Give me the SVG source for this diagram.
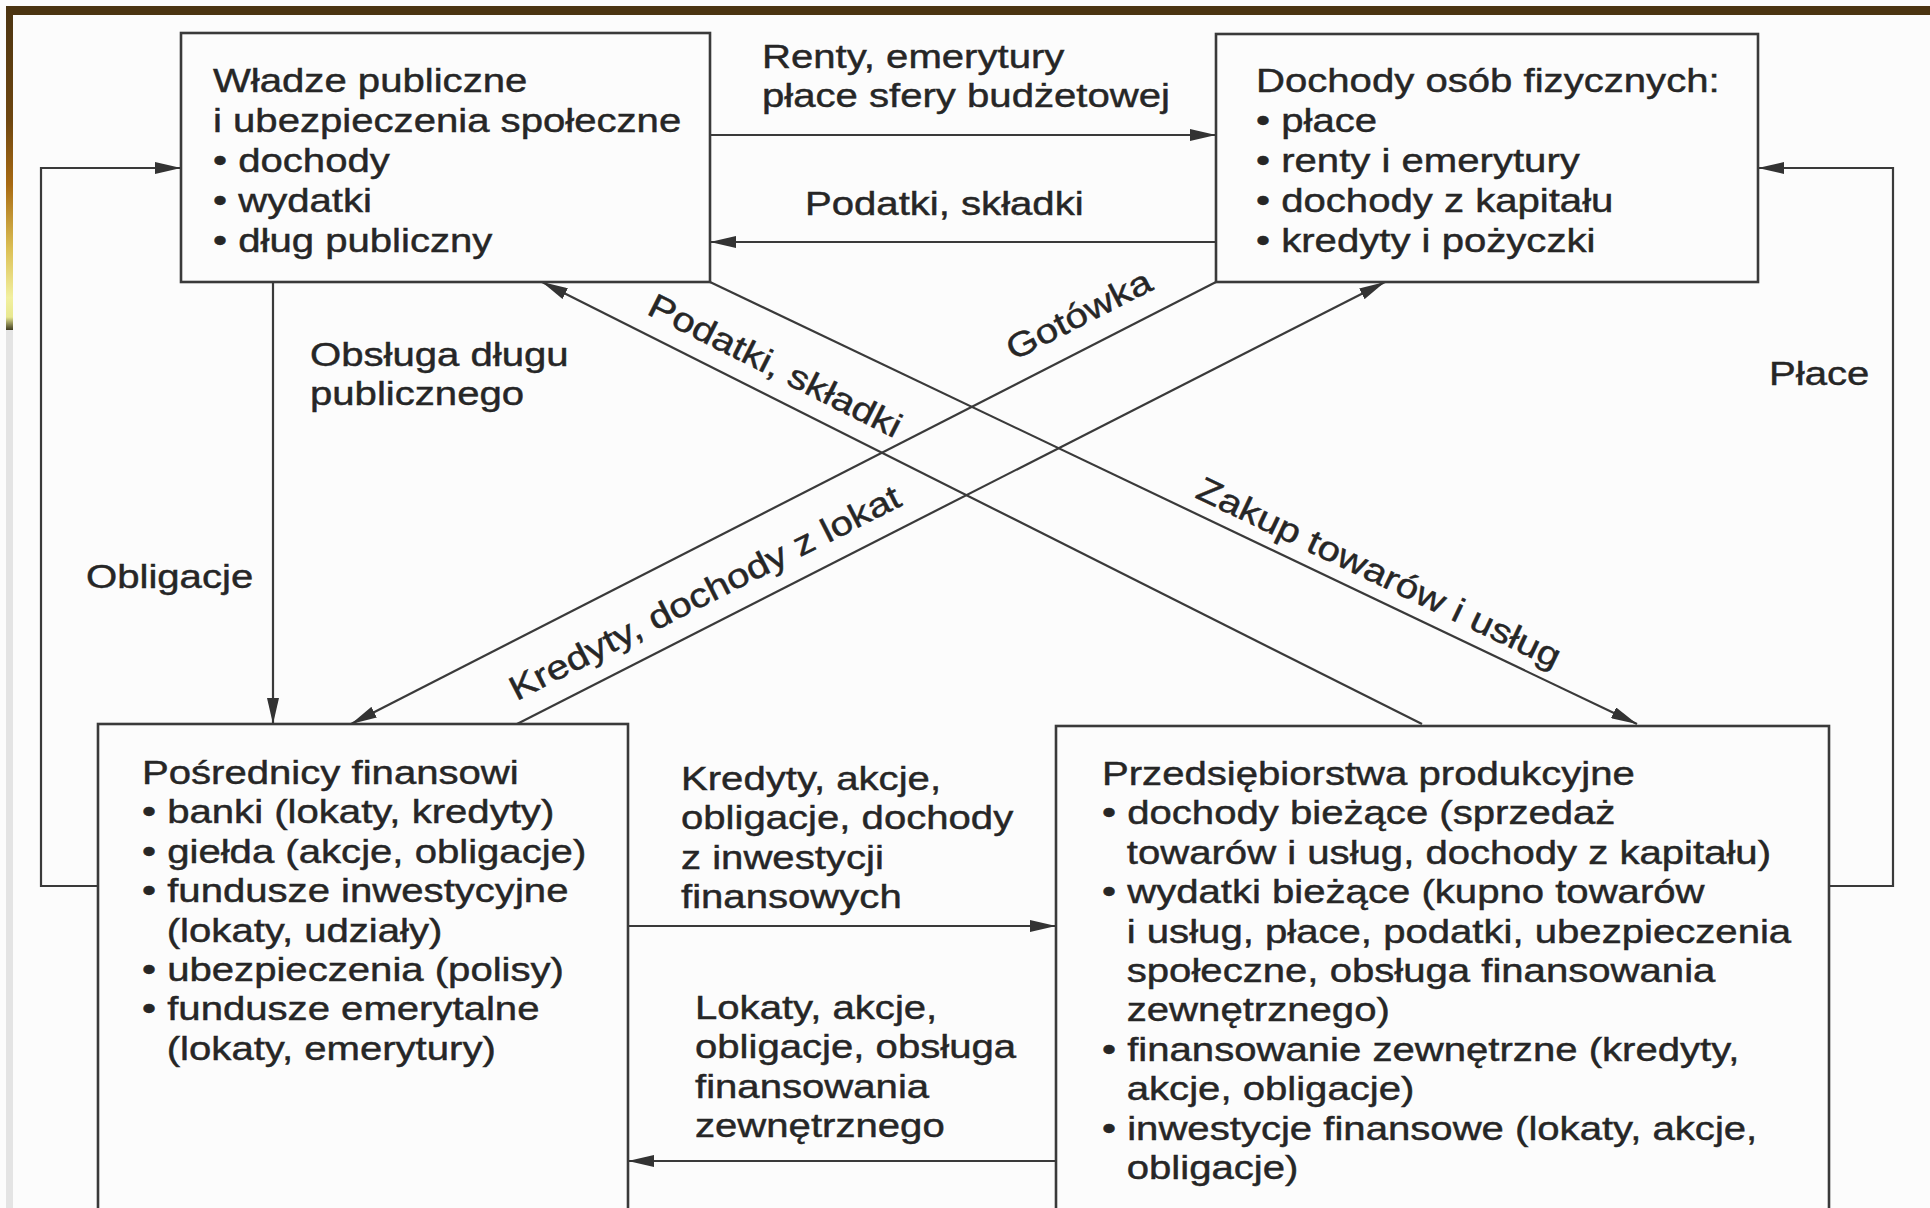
<svg xmlns="http://www.w3.org/2000/svg" width="1930" height="1208" viewBox="0 0 1930 1208">
<style>
.t{font-family:"Liberation Sans",Arial,sans-serif;font-size:34px;fill:#262626;stroke:#262626;stroke-width:0.45}
.box{fill:none;stroke:#3a3a3a;stroke-width:2.6}
.ln{fill:none;stroke:#3a3a3a;stroke-width:2.2}
.arr{marker-end:url(#ah)}
</style>
<defs>
<marker id="ah" markerUnits="userSpaceOnUse" markerWidth="26" markerHeight="12" refX="26" refY="6" orient="auto">
<path d="M0,0 L26,6 L0,12 z" fill="#333"/>
</marker>
<linearGradient id="lg" x1="0" y1="7" x2="0" y2="330" gradientUnits="userSpaceOnUse">
<stop offset="0" stop-color="#4b3411"/>
<stop offset="0.35" stop-color="#6e4610"/>
<stop offset="0.55" stop-color="#a86a12"/>
<stop offset="0.75" stop-color="#dcc055"/>
<stop offset="0.9" stop-color="#f2f0a0"/>
<stop offset="0.96" stop-color="#e8e890"/>
<stop offset="1" stop-color="#3e3a20"/>
</linearGradient>
</defs>
<rect x="0" y="0" width="1930" height="1208" fill="#fcfcfc"/>
<rect x="6" y="6" width="1924" height="9" fill="#4b3411"/>
<rect x="6" y="6" width="7" height="324" fill="url(#lg)"/>
<rect x="6" y="330" width="7" height="878" fill="#e4e4e4"/>

<g id="connectors">
<path class="ln arr" d="M710,135 H1216"/>
<path class="ln arr" d="M1216,242 H710"/>
<path class="ln arr" d="M273,282 V724"/>
<path class="ln arr" d="M98,886 H41 V168 H181"/>
<path class="ln arr" d="M1829,886 H1893 V168 H1758"/>
<path class="ln arr" d="M628,926 H1056"/>
<path class="ln arr" d="M1056,1161 H628"/>
<path class="ln arr" d="M1422,724 L542,282"/>
<path class="ln arr" d="M710,282 L1637,724"/>
<path class="ln arr" d="M1216,282 L351,724"/>
<path class="ln arr" d="M517,724 L1385,282"/>
</g>

<g id="labels">
<text class="t" transform="translate(762,68) scale(1.18,1)"><tspan x="0" y="0">Renty, emerytury</tspan><tspan x="0" y="39">płace sfery budżetowej</tspan></text>
<text class="t" transform="translate(805,215) scale(1.18,1)">Podatki, składki</text>
<text class="t" transform="translate(310,366) scale(1.18,1)"><tspan x="0" y="0">Obsługa długu</tspan><tspan x="0" y="39">publicznego</tspan></text>
<text class="t" transform="translate(86,588) scale(1.18,1)">Obligacje</text>
<text class="t" transform="translate(1769,385) scale(1.18,1)">Płace</text>
<text class="t" transform="translate(681,790) scale(1.18,1)"><tspan x="0" y="0">Kredyty, akcje,</tspan><tspan x="0" y="39.4">obligacje, dochody</tspan><tspan x="0" y="78.8">z inwestycji</tspan><tspan x="0" y="118.2">finansowych</tspan></text>
<text class="t" transform="translate(695,1019) scale(1.18,1)"><tspan x="0" y="0">Lokaty, akcje,</tspan><tspan x="0" y="39.4">obligacje, obsługa</tspan><tspan x="0" y="78.8">finansowania</tspan><tspan x="0" y="118.2">zewnętrznego</tspan></text>
<text class="t" text-anchor="middle" transform="translate(770,376) rotate(26.7) scale(1.18,1)">Podatki, składki</text>
<text class="t" text-anchor="middle" transform="translate(1374,583) rotate(25.5) scale(1.18,1)">Zakup towarów i usług</text>
<text class="t" text-anchor="middle" transform="translate(1084,325) rotate(-27) scale(1.18,1)">Gotówka</text>
<text class="t" text-anchor="middle" transform="translate(710,603) rotate(-26.9) scale(1.18,1)">Kredyty, dochody z lokat</text>
</g>

<g id="wladze">
<rect class="box" x="181" y="33" width="529" height="249"/>
<text class="t" transform="translate(213,92) scale(1.18,1)"><tspan x="0" y="0">Władze publiczne</tspan><tspan x="0" y="40">i ubezpieczenia społeczne</tspan><tspan x="0" y="80">• dochody</tspan><tspan x="0" y="120">• wydatki</tspan><tspan x="0" y="160">• dług publiczny</tspan></text>
</g>

<g id="dochody">
<rect class="box" x="1216" y="34" width="542" height="248"/>
<text class="t" transform="translate(1256,92) scale(1.18,1)"><tspan x="0" y="0">Dochody osób fizycznych:</tspan><tspan x="0" y="40">• płace</tspan><tspan x="0" y="80">• renty i emerytury</tspan><tspan x="0" y="120">• dochody z kapitału</tspan><tspan x="0" y="160">• kredyty i pożyczki</tspan></text>
</g>

<g id="posrednicy">
<rect class="box" x="98" y="724" width="530" height="500"/>
<text class="t" transform="translate(142,784) scale(1.18,1)"><tspan x="0" y="0">Pośrednicy finansowi</tspan><tspan x="0" y="39.4">• banki (lokaty, kredyty)</tspan><tspan x="0" y="78.8">• giełda (akcje, obligacje)</tspan><tspan x="0" y="118.2">• fundusze inwestycyjne</tspan><tspan x="21" y="157.6">(lokaty, udziały)</tspan><tspan x="0" y="197">• ubezpieczenia (polisy)</tspan><tspan x="0" y="236.4">• fundusze emerytalne</tspan><tspan x="21" y="275.8">(lokaty, emerytury)</tspan></text>
</g>

<g id="przedsiebiorstwa">
<rect class="box" x="1056" y="726" width="773" height="500"/>
<text class="t" transform="translate(1102,785) scale(1.18,1)"><tspan x="0" y="0">Przedsiębiorstwa produkcyjne</tspan><tspan x="0" y="39.4">• dochody bieżące (sprzedaż</tspan><tspan x="21" y="78.8">towarów i usług, dochody z kapitału)</tspan><tspan x="0" y="118.2">• wydatki bieżące (kupno towarów</tspan><tspan x="21" y="157.6">i usług, płace, podatki, ubezpieczenia</tspan><tspan x="21" y="197">społeczne, obsługa finansowania</tspan><tspan x="21" y="236.4">zewnętrznego)</tspan><tspan x="0" y="275.8">• finansowanie zewnętrzne (kredyty,</tspan><tspan x="21" y="315.2">akcje, obligacje)</tspan><tspan x="0" y="354.6">• inwestycje finansowe (lokaty, akcje,</tspan><tspan x="21" y="394">obligacje)</tspan></text>
</g>
</svg>
